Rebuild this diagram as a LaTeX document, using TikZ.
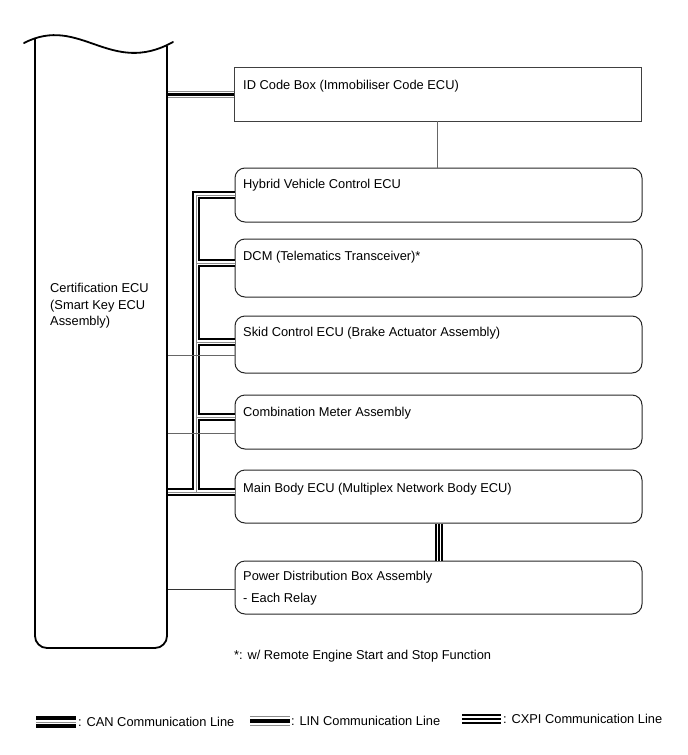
\documentclass[tikz,border=0pt]{standalone}
\usepackage{fontspec}
\setmainfont{Liberation Sans}
\usetikzlibrary{calc}
\begin{document}
\begin{tikzpicture}[x=1pt,y=-1pt,
  box/.style={draw=black!85, line width=1pt, rounded corners=10pt, minimum width=407pt, inner sep=0pt},
  txt/.style={anchor=base west, inner sep=0pt, font=\fontsize{12.85}{15}\selectfont},
  thinline/.style={draw=black!60, line width=0.9pt},
  darkline/.style={draw=black!80, line width=0.9pt},
]
\useasboundingbox (0,0) rectangle (688,755);

% invisible node for the certification ECU outline
\node[inner sep=0pt, minimum width=132pt, minimum height=609pt] (cert) at (101,343.5) {};

% boxes
\node[box, sharp corners, draw=black!75, line width=0.9pt, minimum height=54pt] (idbox) at (437.5,94) {};
\node[box, minimum height=54pt] (hyb) at (438.5,195) {};
\node[box, minimum height=58pt] (dcm) at (438.5,268) {};
\node[box, minimum height=57pt] (skid) at (438.5,344.5) {};
\node[box, minimum height=54pt] (comb) at (438.5,422) {};
\node[box, minimum height=53pt] (main) at (438.5,496.5) {};
\node[box, minimum height=53pt] (pdb) at (438.5,587.5) {};

% bus coordinates
\coordinate (bMain) at (196,492);
\coordinate (bHyb) at (196,195);
\coordinate (bDcm) at (196,263);
\coordinate (bSkid) at (196,342);
\coordinate (bComb) at (196,417);
\coordinate (tSkid) at (196,355);
\coordinate (tComb) at (196,433);
\coordinate (tPdb) at (196,589);

% CAN bus (layered double line)
\foreach \w/\c in {8/black, 4/white, 1/black!45}{
  \draw[line width=\w pt, draw=\c, line join=miter, line cap=butt]
    (cert.east |- bMain) -- (main.west |- bMain)
    (bMain) -- (bHyb) -- (hyb.west |- bHyb)
    (bDcm) -- (dcm.west |- bDcm)
    (bSkid) -- (skid.west |- bSkid)
    (bComb) -- (comb.west |- bComb);
}

% LIN line to ID code box
\foreach \w/\c in {7/black!45, 5/white, 3/black}{
  \draw[line width=\w pt, draw=\c, line cap=butt] (cert.east |- idbox.west) -- (idbox.west);
}

% CXPI line
\foreach \w/\c in {8/black, 4/white, 2/black}{
  \draw[line width=\w pt, draw=\c, line cap=butt] (main.south) -- (main.south |- pdb.north);
}

% thin lines
\draw[thinline] (idbox.south) -- (idbox.south |- hyb.north);
\draw[thinline] (cert.east |- tSkid) -- (skid.west |- tSkid);
\draw[thinline] (cert.east |- tComb) -- (comb.west |- tComb);
\draw[darkline] (cert.east |- tPdb) -- (pdb.west |- tPdb);

% certification ECU outline
\draw[line width=1.8pt, line cap=round] (24,43) .. controls (80,14) and (110,77) .. (173,42);
\draw[line width=1.8pt, rounded corners=12pt] (35,39) -- (35,648) -- (167,648) -- (167,46);

% texts
\node[txt] (tcert1) at (50,292) {Certification ECU};
\node[txt] (tcert2) at (50,309) {(Smart Key ECU};
\node[txt] (tcert3) at (50,325) {Assembly)};
\node[txt] (tid) at (243,89) {ID Code Box (Immobiliser Code ECU)};
\node[txt] (thyb) at (243,188) {Hybrid Vehicle Control ECU};
\node[txt] (tdcm) at (243,260) {DCM (Telematics Transceiver)*};
\node[txt] (tskid) at (243,336) {Skid Control ECU (Brake Actuator Assembly)};
\node[txt] (tcomb) at (243,416) {Combination Meter Assembly};
\node[txt] (tmain) at (243,492) {Main Body ECU (Multiplex Network Body ECU)};
\node[txt] (tpdb1) at (243,580) {Power Distribution Box Assembly};
\node[txt] (tpdb2) at (243,602) {- Each Relay};
\node[txt] (tnote) at (234,659) {*: w/ Remote Engine Start and Stop Function};

% legend
\coordinate (lcA) at (36,722);  \coordinate (lcB) at (76,722);
\coordinate (llA) at (250,721); \coordinate (llB) at (290,721);
\coordinate (lxA) at (462,719); \coordinate (lxB) at (501,719);
\foreach \w/\c in {12/black, 4/white, 1/black!45}{
  \draw[line width=\w pt, draw=\c, line cap=butt] (lcA) -- (lcB);
}
\foreach \w/\c in {10/black!45, 8/white, 4.5/black}{
  \draw[line width=\w pt, draw=\c, line cap=butt] (llA) -- (llB);
}
\foreach \w/\c in {10/black, 6/white, 2.6/black}{
  \draw[line width=\w pt, draw=\c, line cap=butt] (lxA) -- (lxB);
}
\node[txt] (lcan) at (78,726) {: CAN Communication Line};
\node[txt] (llin) at (291,725) {: LIN Communication Line};
\node[txt] (lcxpi) at (503,723) {: CXPI Communication Line};
\end{tikzpicture}
\end{document}
